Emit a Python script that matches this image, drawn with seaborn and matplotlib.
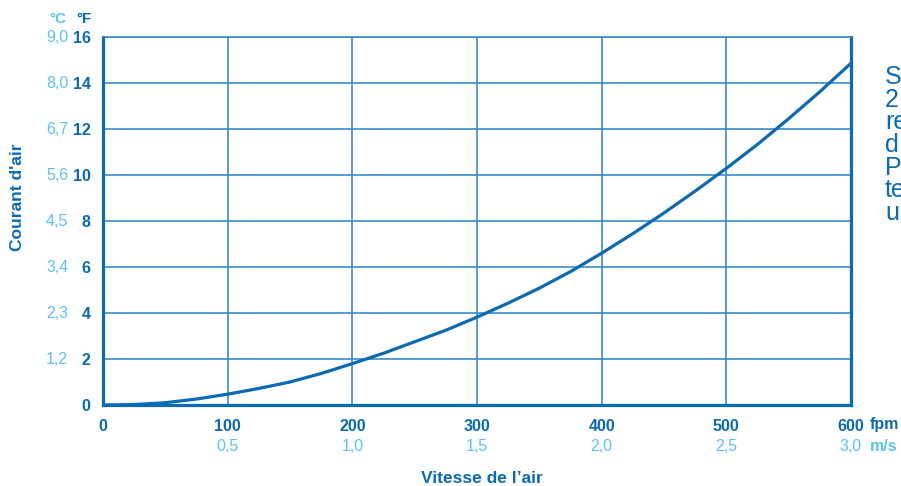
import pandas as pd
import matplotlib.pyplot as plt
import matplotlib.transforms as mtransforms
import seaborn as sns

# valeurs
vitesse_fpm = [0, 25, 50, 75, 100, 125, 150, 175, 200, 225, 250, 275, 300,
               325, 350, 375, 400, 425, 450, 475, 500, 525, 550, 575, 600]
courant_f = [0.0, 0.02, 0.1, 0.26, 0.47, 0.72, 1.0, 1.37, 1.8, 2.25, 2.75, 3.25, 3.82,
             4.43, 5.08, 5.8, 6.6, 7.45, 8.35, 9.3, 10.29, 11.33, 12.45, 13.62, 14.86]

yticks_f = [0, 2, 4, 6, 8, 10, 12, 14, 16]
yticks_c = ['', '1,2', '2,3', '3,4', '4,5', '5,6', '6,7', '8,0', '9,0']
xticks_fpm = [0, 100, 200, 300, 400, 500, 600]
xticks_ms = ['', '0,5', '1,0', '1,5', '2,0', '2,5', '3,0']

bleu = '#0a6ab4'
bleu_grille = '#3a8cc9'
bleu_clair = '#5cc3f0'

sns.set_style('white')
plt.rcParams['font.family'] = ['Liberation Sans', 'DejaVu Sans']

df = pd.DataFrame({'fpm': vitesse_fpm, 'F': courant_f})

fig = plt.figure(figsize=(9.01, 4.86), dpi=100)
ax = fig.add_axes([103 / 901, 1 - 405 / 486, 748 / 901, 368 / 486])

sns.lineplot(data=df, x='fpm', y='F', color=bleu, linewidth=2.3, ax=ax, zorder=5)

ax.set_xlim(0, 600)
ax.set_ylim(0, 16)
ax.set_xticks(xticks_fpm)
ax.set_xticklabels([str(v) for v in xticks_fpm], fontsize=11.5, fontweight='bold', color=bleu)
ax.set_yticks(yticks_f)
ax.set_yticklabels([str(v) for v in yticks_f], fontsize=11.5, fontweight='bold', color=bleu)
ax.tick_params(axis='both', length=6, width=1.2, color=bleu, direction='out', pad=3)
ax.tick_params(axis='x', pad=4)
ax.grid(True, color=bleu_grille, linewidth=1.2)
ax.set_axisbelow(True)

for s in ['left', 'bottom', 'right']:
    ax.spines[s].set_color(bleu)
    ax.spines[s].set_linewidth(2.3)
ax.spines['top'].set_color(bleu_grille)
ax.spines['top'].set_linewidth(1.2)

ax.set_xlabel('')
ax.set_ylabel('')

# échelle °C à gauche
ty = mtransforms.blended_transform_factory(ax.transAxes, ax.transData)
for v, lab in zip(yticks_f, yticks_c):
    ax.text(-0.0465, v, lab, transform=ty, ha='right', va='center',
            fontsize=11.5, color=bleu_clair)
ax.text(-0.0495, 1.05, '°C', transform=ax.transAxes, ha='right', va='center',
        fontsize=11, fontweight='bold', color=bleu_clair)
ax.text(-0.0155, 1.05, '°F', transform=ax.transAxes, ha='right', va='center',
        fontsize=11, fontweight='bold', color=bleu)

# échelle m/s en bas
tx = mtransforms.blended_transform_factory(ax.transData, ax.transAxes)
for v, lab in zip(xticks_fpm, xticks_ms):
    ax.text(v, -0.113, lab, transform=tx, ha='center', va='center',
            fontsize=11.5, color=bleu_clair)
ax.text(1.025, -0.054, 'fpm', transform=ax.transAxes, ha='left', va='center',
        fontsize=11.5, fontweight='bold', color=bleu)
ax.text(1.025, -0.113, 'm/s', transform=ax.transAxes, ha='left', va='center',
        fontsize=11.5, fontweight='bold', color=bleu_clair)

fig.text(482 / 901, 1 - 478 / 486, 'Vitesse de l\u2019air', ha='center', va='center',
         fontsize=12.5, fontweight='bold', color=bleu)
fig.text(18 / 901, 1 - 197 / 486, "Courant d'air", ha='center', va='center',
         rotation=90, fontsize=12.5, fontweight='bold', color=bleu)

# texte coupé à droite
fig.text(885 / 901, 1 - 65 / 486, 'S\n2\nre\nd\nP\nte\nu', ha='left', va='top',
         fontsize=18, color=bleu, linespacing=0.93)

fig.savefig('out.png', dpi=100)
